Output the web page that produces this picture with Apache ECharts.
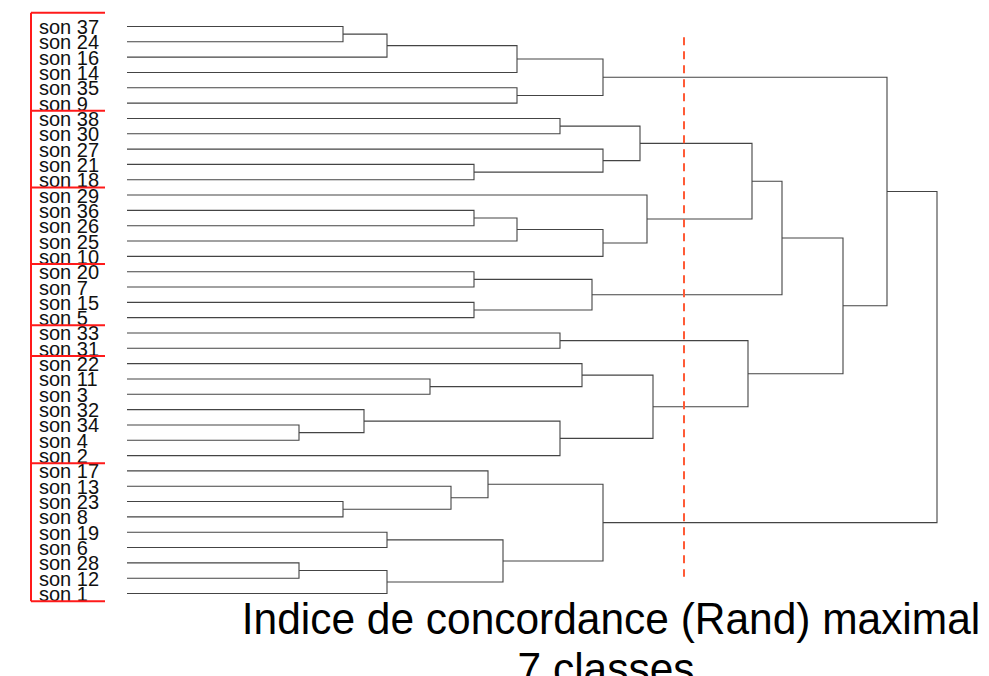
<!DOCTYPE html>
<html><head><meta charset="utf-8">
<script src="https://cdn.jsdelivr.net/npm/echarts@6/dist/echarts.min.js"></script>
<style>html,body{margin:0;padding:0;background:#fff;overflow:hidden;} #c{width:989px;height:676px;}</style>
</head><body><div id="c"></div>
<script>
// Leaf order (top to bottom)
const leaves = ['son 37','son 24','son 16','son 14','son 35','son 9','son 38','son 30','son 27','son 21','son 18',
  'son 29','son 36','son 26','son 25','son 10','son 20','son 7','son 15','son 5','son 33','son 31','son 22','son 11',
  'son 3','son 32','son 34','son 4','son 2','son 17','son 13','son 23','son 8','son 19','son 6','son 28','son 12','son 1'];
// Agglomeration steps: strings are leaves, numbers refer to an earlier step (1-based)
const mergeLeft = ['son 34','son 28','son 37','son 23','son 32',3,'son 19',2,'son 11','son 13','son 21','son 36','son 20',
  'son 15','son 17',7,6,'son 35',12,'son 38','son 33',5,'son 22',13,17,'son 27',19,15,20,'son 29',23,21,29,33,34,25,36];
const mergeRight = ['son 4','son 12','son 24','son 8',1,'son 16','son 6','son 1','son 3',4,'son 18','son 26','son 7',
  'son 5',10,8,'son 14','son 9','son 25','son 30','son 31','son 2',9,14,18,11,'son 10',16,26,27,22,31,30,24,32,35,28];
const mergeHeight = [1.72,1.72,2.16,2.16,2.37,2.60,2.60,2.60,3.03,3.24,3.47,3.47,3.47,3.47,3.61,3.76,3.90,3.90,3.90,
  4.33,4.33,4.33,4.55,4.65,4.76,4.76,4.76,4.76,5.13,5.20,5.26,6.21,6.25,6.55,7.16,7.60,8.10];
// Cut height (red dashed line) and the 7 classes sizes (top to bottom)
const cutHeight = 5.57;
const cutSpan = [0.7, 35.9];
const classSizes = [6,5,5,4,2,7,9];
const titleLines = ['Indice de concordance (Rand) maximal', '7 classes'];

// build node positions (hclust-style: node y = mean of children y)
const nodeH = [], nodeY = [];
function child(c){ return typeof c === 'string' ? {h:0, y:leaves.indexOf(c)} : {h:nodeH[c-1], y:nodeY[c-1]}; }
const segs = [];
for (let k = 0; k < mergeHeight.length; k++) {
  const a = child(mergeLeft[k]), b = child(mergeRight[k]);
  nodeH.push(mergeHeight[k]); nodeY.push((a.y + b.y) / 2);
  segs.push([a.h, a.y, mergeHeight[k], b.h, b.y]);
}
// class boundaries in leaf-index units
const bounds = [-0.9];
let acc = 0;
classSizes.forEach(s => { acc += s; bounds.push(acc - 0.5); });

const chart = echarts.init(document.getElementById('c'), null, {renderer: 'svg'});
chart.setOption({
  animation: false,
  backgroundColor: '#fff',
  grid: {left: 127, top: 26.5, width: 810, height: 567},
  xAxis: {type: 'value', min: 0, max: 8.1, show: false},
  yAxis: {type: 'value', min: 0, max: leaves.length - 1, inverse: true, show: false},
  series: [
    {type: 'custom', data: segs, clip: false,
      renderItem: (params, api) => {
        const p1 = api.coord([api.value(0), api.value(1)]);
        const p2 = api.coord([api.value(2), api.value(1)]);
        const p3 = api.coord([api.value(2), api.value(4)]);
        const p4 = api.coord([api.value(3), api.value(4)]);
        return {type: 'polyline', shape: {points: [p1, p2, p3, p4]},
          style: {stroke: '#444', lineWidth: 1.1, fill: null}};
      }},
    // leaf labels
    {type: 'custom', data: leaves.map((n, i) => [0, i]), clip: false,
      renderItem: (params, api) => {
        const p = api.coord([0, api.value(1)]);
        return {type: 'text', x: p[0] - 88, y: p[1] + 0.5,
          style: {text: leaves[params.dataIndex], align: 'left', verticalAlign: 'middle',
            fontSize: 20, fontFamily: 'Liberation Sans', fill: '#111'}};
      }},
    // class brackets
    {type: 'custom', data: [0], clip: false,
      renderItem: (params, api) => {
        const x0 = api.coord([0, 0])[0] - 96, x1 = api.coord([0, 0])[0] - 22;
        const ys = bounds.map(b => api.coord([0, b])[1]);
        const children = ys.map(y => ({type: 'line', shape: {x1: x0, y1: y, x2: x1, y2: y},
          style: {stroke: '#ff1a1a', lineWidth: 2}}));
        children.push({type: 'line', shape: {x1: x0, y1: ys[0], x2: x0, y2: ys[ys.length - 1]},
          style: {stroke: '#ff1a1a', lineWidth: 2}});
        return {type: 'group', children};
      }},
    {type: 'line', data: [[cutHeight, cutSpan[0]], [cutHeight, cutSpan[1]]], symbol: 'none',
      lineStyle: {color: '#ff5a36', width: 2, type: [8, 6]}}
  ],
  graphic: [
    {type: 'text', x: 611, y: 619, scaleX: 0.965,
      style: {text: titleLines[0], align: 'center', verticalAlign: 'middle', fontSize: 44,
        fontFamily: 'Liberation Sans', fill: '#000'}},
    {type: 'text', x: 606, y: 669, scaleX: 0.965,
      style: {text: titleLines[1], align: 'center', verticalAlign: 'middle', fontSize: 44,
        fontFamily: 'Liberation Sans', fill: '#000'}}
  ]
});
</script></body></html>
